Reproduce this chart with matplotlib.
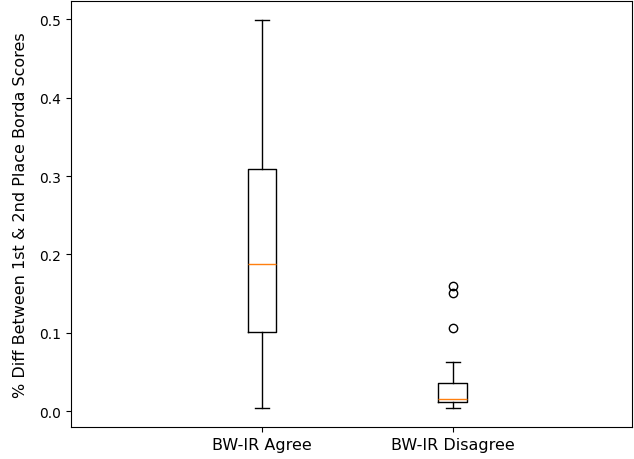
import matplotlib
matplotlib.use('Agg')
import matplotlib.pyplot as plt

labels = ['BW-IR Agree', 'BW-IR Disagree']
whislo = [0.004, 0.004]
q1 = [0.101, 0.0115]
med = [0.188, 0.0153]
q3 = [0.309, 0.0358]
whishi = [0.499, 0.0627]
fliers = [[], [0.106, 0.151, 0.159]]

stats = []
for i in range(len(labels)):
    stats.append({'label': labels[i], 'whislo': whislo[i], 'q1': q1[i], 'med': med[i],
                  'q3': q3[i], 'whishi': whishi[i], 'fliers': fliers[i]})

fig, ax = plt.subplots(figsize=(6.34, 4.6), dpi=100)
ax.bxp(stats, positions=[1, 2], widths=0.15)
ax.set_xlim(0, 2.94)
ax.tick_params(axis='x', labelsize=11.5)
ax.set_ylabel('% Diff Between 1st & 2nd Place Borda Scores', fontsize=11.5, labelpad=8)
plt.subplots_adjust(left=0.112, right=0.997, top=0.996, bottom=0.069)
plt.savefig('out.png')
